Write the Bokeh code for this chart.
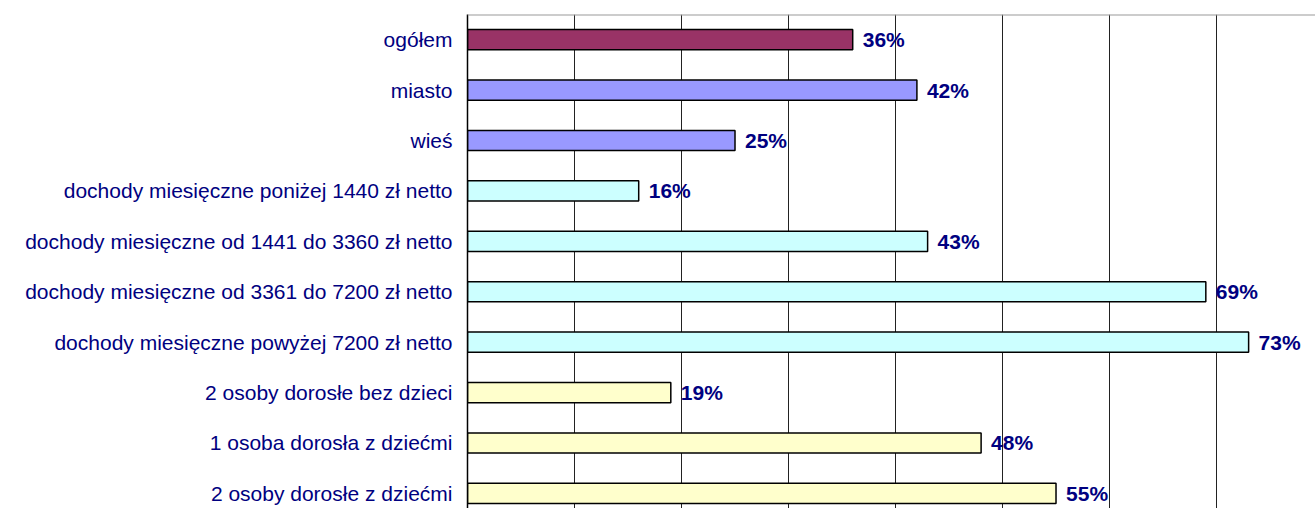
from bokeh.plotting import figure
from bokeh.models import Range1d, FixedTicker, Span, ColumnDataSource
from bokeh.core.properties import value
from bokeh.embed import file_html
from bokeh.resources import INLINE

categories = [
    "ogółem",
    "miasto",
    "wieś",
    "dochody miesięczne poniżej 1440 zł netto",
    "dochody miesięczne od 1441 do 3360 zł netto",
    "dochody miesięczne od 3361 do 7200 zł netto",
    "dochody miesięczne powyżej 7200 zł netto",
    "2 osoby dorosłe bez dzieci",
    "1 osoba dorosła z dziećmi",
    "2 osoby dorosłe z dziećmi",
]
values = [36, 42, 25, 16, 43, 69, 73, 19, 48, 55]
colors = ["#993366", "#9999FF", "#9999FF", "#CCFFFF", "#CCFFFF", "#CCFFFF",
          "#CCFFFF", "#FFFFCC", "#FFFFCC", "#FFFFCC"]
value_labels = [f"{v}%" for v in values]
grid_ticks = [10, 20, 30, 40, 50, 60, 70]

pos = list(range(len(categories)))
src = ColumnDataSource(dict(y=pos, v=values, c=colors, lab=value_labels))

p = figure(width=1315, height=508, output_backend="svg", toolbar_location=None,
           x_range=Range1d(0, 79.25), y_range=Range1d(9.30, -0.5),
           min_border_left=467, min_border_right=0, min_border_top=14,
           min_border_bottom=0, background_fill_color="white",
           border_fill_color="white")
p.outline_line_color = None

p.hbar(y="y", right="v", left=0, height=0.4, fill_color="c",
       line_color="black", line_width=1.5, source=src)

p.text(x="v", y="y", text="lab", x_offset=10, text_baseline="middle",
       text_align="left", text_font=value("Liberation Sans"),
       text_font_style="bold", text_font_size="21px", text_color="#000080",
       source=src)

p.xaxis.visible = False
p.xgrid.ticker = FixedTicker(ticks=grid_ticks)
p.xgrid.grid_line_color = "#222222"
p.xgrid.grid_line_width = 1
p.ygrid.grid_line_color = None

p.yaxis.ticker = FixedTicker(ticks=pos)
p.yaxis.major_label_overrides = {i: c for i, c in enumerate(categories)}
p.yaxis.major_tick_line_color = None
p.yaxis.minor_tick_line_color = None
p.yaxis.major_tick_out = 0
p.yaxis.major_tick_in = 0
p.yaxis.major_label_standoff = 15
p.yaxis.axis_line_color = "black"
p.yaxis.axis_line_width = 1.5
p.yaxis.major_label_text_font = "Liberation Sans"
p.yaxis.major_label_text_font_size = "21px"
p.yaxis.major_label_text_color = "#000080"

top = Span(location=-0.5, dimension="width", line_color="#999999", line_width=2)
p.add_layout(top)

open("out.html", "w").write(file_html(p, INLINE))
